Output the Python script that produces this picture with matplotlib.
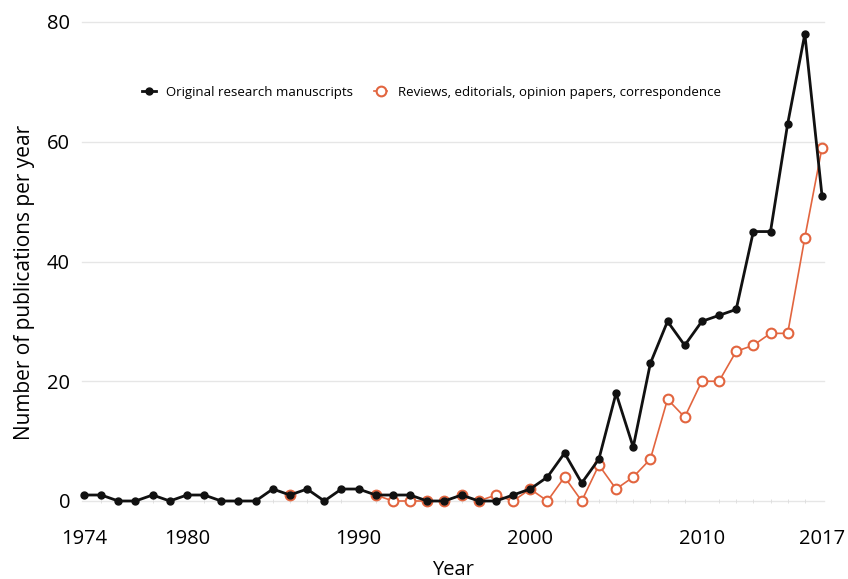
import numpy as np
import matplotlib
matplotlib.use("Agg")
import matplotlib.pyplot as plt
from matplotlib.ticker import MultipleLocator

years = list(range(1974, 2018))
original = [1, 1, 0, 0, 1, 0, 1, 1, 0, 0, 0, 2, 1, 2, 0, 2, 2, 1, 1, 1, 0, 0,
            1, 0, 0, 1, 2, 4, 8, 3, 7, 18, 9, 23, 30, 26, 30, 31, 32, 45, 45, 63, 78, 51]
nan = np.nan
reviews = [nan]*12 + [1] + [nan]*4 + [1, 0, 0, 0, 0, 1, 0, 1, 0, 2, 0, 4, 0, 6, 2, 4, 7,
                                     17, 14, 20, 20, 25, 26, 28, 28, 44, 59]
xticks = [1974, 1980, 1990, 2000, 2010, 2017]
yticks = [0, 20, 40, 60, 80]
labels = ["Original research manuscripts", "Reviews, editorials, opinion papers, correspondence"]

plt.rcParams['font.family'] = ['Open Sans', 'DejaVu Sans']
fig = plt.figure(figsize=(8.48, 5.79), dpi=100)
ax = fig.add_axes([84/848, 1-501/579, (822-84)/848, (501-22)/579])

orange = '#E2653F'
ax.plot(years, reviews, color=orange, lw=1.2, marker='o', ms=7, mfc='white',
        mec=orange, mew=1.5, label=labels[1], zorder=3, clip_on=False)
ax.plot(years, original, color='#111111', lw=2.0, marker='o', ms=5,
        mfc='#111111', mec='#111111', label=labels[0], zorder=4, clip_on=False)

ax.set_xlim(1974, 2017)
ax.set_ylim(0, 80)
ax.set_xticks(xticks)
ax.set_yticks(yticks)
ax.xaxis.set_minor_locator(MultipleLocator(1))
for s in ax.spines.values():
    s.set_visible(False)
for y in yticks:
    ax.axhline(y, xmin=-0.003, xmax=1.003, color='#e6e6e6', lw=1, zorder=1, clip_on=False)
ax.tick_params(axis='y', length=0, labelsize=14.5, pad=10)
ax.tick_params(axis='x', which='major', length=0, labelsize=14.5, pad=20)
ax.tick_params(axis='x', which='minor', length=3, color='#dddddd', direction='inout')
ax.set_xlabel("Year", fontsize=14.5, labelpad=8)
ax.set_ylabel("Number of publications per year", fontsize=15)
ax.yaxis.set_label_coords(-0.066, 0.457)

h, l = ax.get_legend_handles_labels()
leg = ax.legend([h[1], h[0]], [l[1], l[0]], loc='upper left', bbox_to_anchor=(0.063, 0.891),
                ncol=2, frameon=False, fontsize=9.5, handlelength=1.0,
                handletextpad=0.8, columnspacing=1.6)
fig.savefig("out.png", dpi=100)
